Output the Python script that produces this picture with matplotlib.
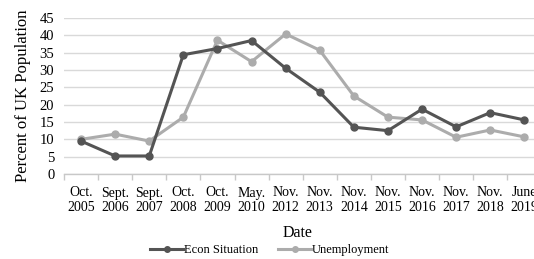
import matplotlib
matplotlib.use("Agg")
import matplotlib.pyplot as plt
import numpy as np

dates = ["Oct.\n2005", "Sept.\n2006", "Sept.\n2007", "Oct.\n2008", "Oct.\n2009", "May.\n2010",
         "Nov.\n2012", "Nov.\n2013", "Nov.\n2014", "Nov.\n2015", "Nov.\n2016", "Nov.\n2017",
         "Nov.\n2018", "June\n2019"]
econ = [9.5, 5.2, 5.2, 34.4, 36.2, 38.5, 30.5, 23.6, 13.5, 12.5, 18.7, 13.6, 17.7, 15.6]
unemp = [10.0, 11.5, 9.5, 16.4, 38.6, 32.4, 40.4, 35.7, 22.5, 16.4, 15.6, 10.6, 12.7, 10.7]
yticks = list(range(0, 50, 5))

plt.rcParams['font.family'] = ['Liberation Serif', 'DejaVu Serif']

fig = plt.figure(figsize=(5.34, 2.59), dpi=100)
ax = fig.add_axes([64/534, 1-174/259, (14*34.1)/534, (174-18)/259])

x = np.arange(len(dates))
ax.plot(x, econ, color='#545454', lw=2.2, marker='o', ms=5, label='Econ Situation', zorder=3)
ax.plot(x, unemp, color='#acacac', lw=2.2, marker='o', ms=5, label='Unemployment', zorder=2)

ax.set_xlim(-0.5, len(dates)-0.5)
ax.set_ylim(0, 45)
ax.set_yticks(yticks)
ax.set_yticklabels([str(v) for v in yticks], fontsize=10.5)
ax.set_xticks(x)
ax.set_xticklabels(dates, fontsize=10, linespacing=1.12)
ax.set_xticks(np.arange(-0.5, len(dates), 1), minor=True)
ax.tick_params(axis='x', which='major', length=0, pad=9)
ax.tick_params(axis='x', which='minor', length=4, color='#c8c8c8', width=1)
ax.tick_params(axis='y', length=0, pad=7)
ax.grid(axis='y', color='#d9d9d9', lw=1)
ax.set_axisbelow(True)
for s in ['top', 'right', 'left']:
    ax.spines[s].set_visible(False)
ax.spines['bottom'].set_color('#c8c8c8')
ax.spines['bottom'].set_linewidth(1)

ax.set_ylabel('Percent of UK Population', fontsize=12, labelpad=6)
fig.text(298/534, 1-233/259, 'Date', fontsize=11.5, ha='center', va='center')

leg = fig.legend(loc='center', bbox_to_anchor=(270/534, 1-250/259), ncol=2, frameon=False,
                 fontsize=9, handlelength=2.6, handletextpad=0.1, columnspacing=1.6,
                 markerscale=0.8)

fig.savefig('out.png', dpi=100)
